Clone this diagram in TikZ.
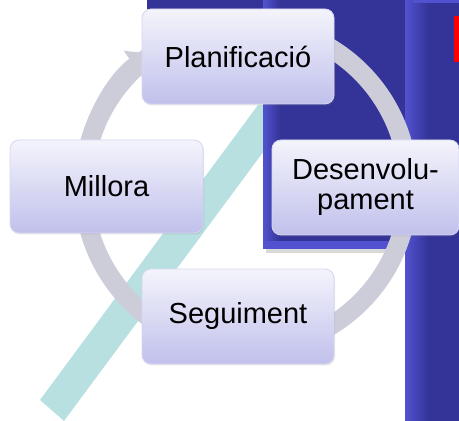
\documentclass[tikz,border=0pt]{standalone}
\usepackage{fontspec}
\setmainfont{Liberation Sans}
\usepackage{xcolor}
\usepackage{tikz}
\usetikzlibrary{arrows.meta}
\usetikzlibrary{shadows}
\definecolor{slideblue}{RGB}{52,52,152}
\definecolor{edgeblue}{RGB}{82,82,208}
\definecolor{bandcyan}{RGB}{184,224,224}
\definecolor{ringgrey}{RGB}{205,205,218}
\definecolor{boxtop}{RGB}{244,244,252}
\definecolor{boxbottom}{RGB}{192,192,236}
\definecolor{boxedge}{RGB}{214,214,242}
\tikzset{
	cycle box/.style={rectangle,rounded corners=9pt,draw=boxedge,line width=0.8pt,
		top color=boxtop,bottom color=boxbottom,minimum width=192pt,minimum height=95pt,
		align=center,inner sep=2pt,font=\fontsize{29}{30}\selectfont,
		drop shadow={opacity=0.2,shadow xshift=1pt,shadow yshift=-1.5pt}},
	ring/.style={draw=ringgrey,line width=19pt},
	panel/.style={fill=slideblue}
}

\begin{document}
\begin{tikzpicture}[x=1pt,y=1pt]
	\useasboundingbox (0,0) rectangle (459,421);
	% diagonal band
	\fill[bandcyan] (40,21) -- (258,316) -- (298,316) -- (64,0) -- cycle;
	% slide panels
	\fill[panel] (147,411) rectangle (405,421);
	\fill[black!15] (266,168) rectangle (405,172);
	\fill[edgeblue] (263,172) rectangle (405,421);
	\fill[panel] (271,180) rectangle (405,421);
	\shade[left color=edgeblue,right color=slideblue] (263,180) rectangle (280,421);
	\fill[panel] (405,0) rectangle (459,421);
	\shade[left color=edgeblue,right color=slideblue] (405,0) rectangle (428,421);
	\fill[edgeblue] (413,418) rectangle (459,421);
	\fill[red] (454,359) rectangle (459,405);
	% cycle
	\coordinate (ctr) at (246,234);
	\draw[ring] (ctr) circle (162.5);
	\draw[ring,-{Triangle[length=22pt,width=37pt]}] (ctr) ++(170:162.5) arc (170:125:162.5);
	\node[cycle box] (pla) at (238,364.5) {Planificació};
	\node[cycle box,minimum width=187pt] (des) at (365.5,233.5) {Desenvolu-\\pament};
	\node[cycle box] (seg) at (238,104.5) {Seguiment};
	\node[cycle box,minimum width=193pt,minimum height=93pt] (mil) at (106.5,234.5) {Millora};
\end{tikzpicture}
\end{document}
